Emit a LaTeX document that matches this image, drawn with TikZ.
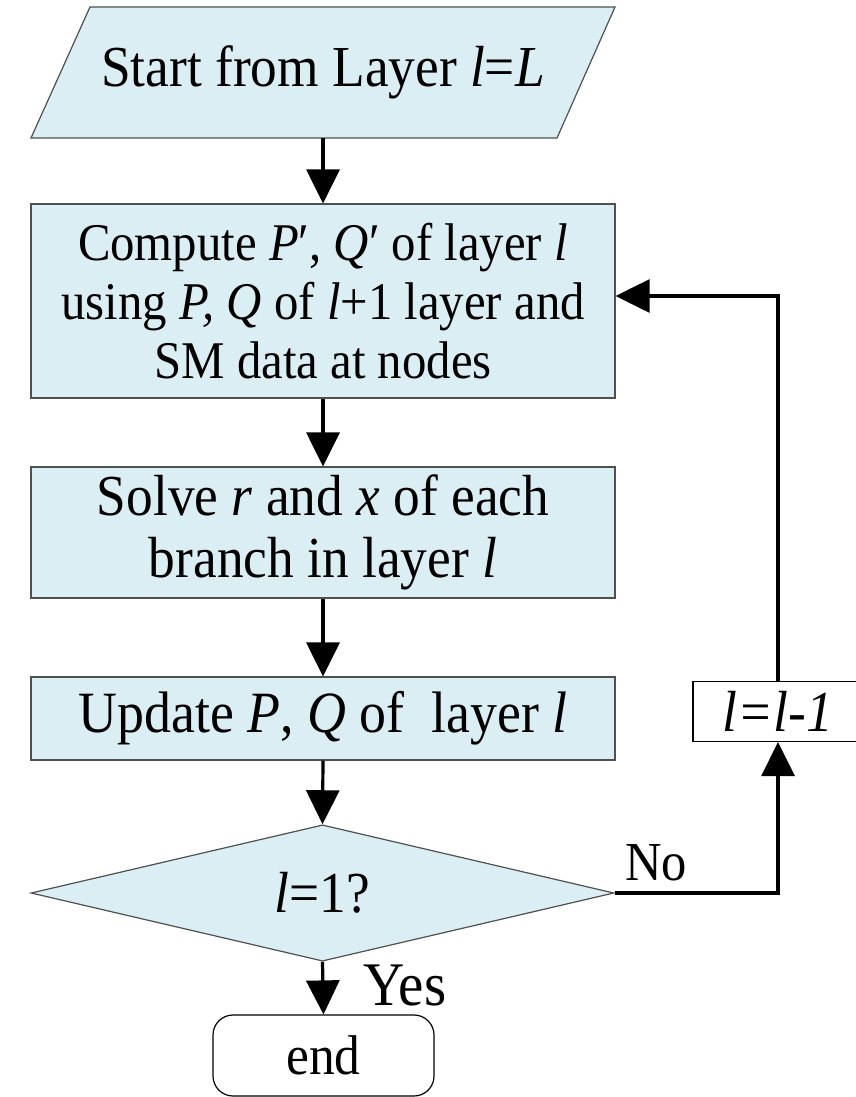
\documentclass[tikz,border=0pt]{standalone}
\usepackage{fontspec}
\setmainfont{Liberation Serif}[FakeStretch=0.92]
\usetikzlibrary{shapes.geometric,arrows.meta}
\definecolor{boxfill}{HTML}{DBEEF3}
\definecolor{boxline}{HTML}{505050}
\tikzset{
  flow/.style={draw=boxline, line width=1.2pt, fill=boxfill, align=center, inner sep=0pt},
  plain/.style={draw=black, line width=1.2pt, fill=white, align=center, inner sep=0pt},
  conn/.style={line width=3.2pt, -{Triangle[length=34pt,width=33pt]}},
  lbl/.style={inner sep=0pt, anchor=base west},
}
\begin{document}
\begin{tikzpicture}[x=1pt,y=-1pt]
\clip (0,0) rectangle (856,1097);
\fill[white] (0,0) rectangle (856,1097);
% start parallelogram
\filldraw[fill=boxfill, draw=boxline, line width=1.2pt] (90,7) -- (615,7) -- (557,138) -- (31,138) -- cycle;
\node[inner sep=0pt, minimum width=526pt, minimum height=131pt, font=\fontsize{58}{64}\selectfont] (start) at (323,72.5) {Start from Layer \textit{l}=\textit{L}};
\node[flow, minimum width=584pt, minimum height=194pt, font=\fontsize{53}{59}\selectfont] (b2) at (323,301)
  {Compute \textit{P}′, \textit{Q}′ of layer \textit{l}\\using \textit{P, Q} of \textit{l}+1 layer and\\SM data at nodes};
\node[flow, minimum width=584pt, minimum height=131pt, font=\fontsize{58}{62}\selectfont] (b3) at (323,532.5)
  {Solve \textit{r} and \textit{x} of each\\branch in layer \textit{l}};
\node[flow, minimum width=584pt, minimum height=83pt, font=\fontsize{58.5}{62}\selectfont] (b4) at (323,718.5)
  {Update \textit{P}, \textit{Q} of \ layer \textit{l}};
\node[flow, diamond, minimum width=583pt, minimum height=130pt, font=\fontsize{58}{62}\selectfont] (d) at (322.5,893)
  {\textit{l}=1?};
\node[plain, minimum width=170pt, minimum height=60pt, font=\fontsize{58}{64}\selectfont] (lb) at (778,711.5)
  {\textit{l=l-1}};
\node[plain, rounded corners=20pt, minimum width=221pt, minimum height=81pt, font=\fontsize{56}{62}\selectfont] (end) at (323.5,1055.5)
  {end};
\node[lbl, font=\fontsize{55}{60}\selectfont] (no) at (625,880) {No};
\node[lbl, font=\fontsize{62}{66}\selectfont] (yes) at (363,1005) {Yes};
% connectors
\draw[conn] (start.south) -- (b2.north);
\draw[conn] (b2.south) -- (b3.north);
\draw[conn] (b3.south) -- (b4.north);
\draw[conn] (b4.south) -- (d.north);
\draw[conn] (d.south) -- (end.north);
\draw[conn] (d.east) -| (lb.south);
\draw[conn] (lb.north) |- ([yshift=5pt]b2.east);
\end{tikzpicture}
\end{document}
